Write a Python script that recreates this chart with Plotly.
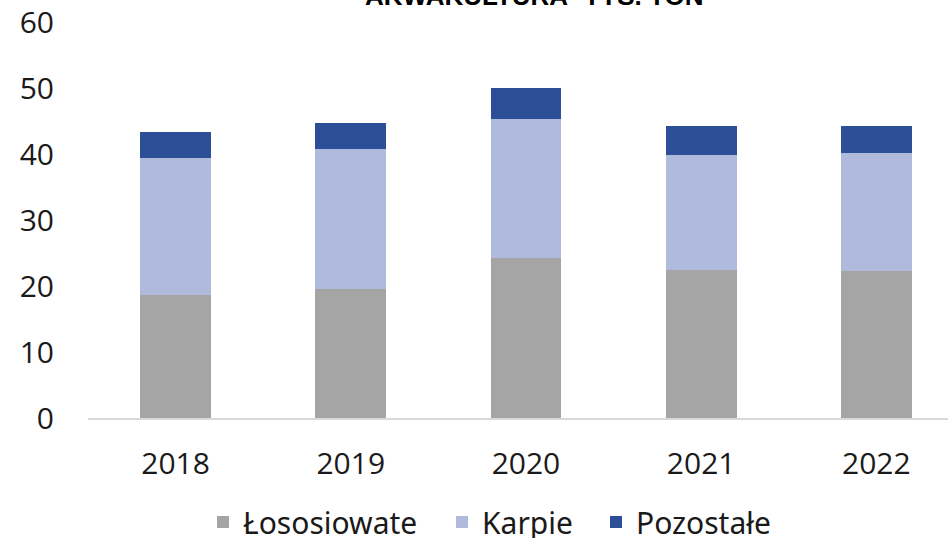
import plotly.graph_objects as go

years = ["2018", "2019", "2020", "2021", "2022"]
lososiowate = [18.6, 19.5, 24.3, 22.4, 22.3]
karpie = [20.8, 21.3, 21.0, 17.4, 17.9]
pozostale = [3.9, 3.9, 4.7, 4.4, 4.0]
y_ticks = [0, 10, 20, 30, 40, 50, 60]
title_text = "AKWAKULTURA- TYS. TON"

fig = go.Figure()
fig.add_bar(x=years, y=lososiowate, name="Łososiowate", legend="legend",
            marker=dict(color="#A5A5A5", line=dict(width=0)))
fig.add_bar(x=years, y=karpie, name="Karpie", legend="legend2",
            marker=dict(color="#AFBADD", line=dict(width=0)))
fig.add_bar(x=years, y=pozostale, name="Pozostałe", legend="legend3",
            marker=dict(color="#2D4F97", line=dict(width=0)))

PLOT_L, PLOT_W = 88, 860


def legend_at(px):
    return dict(orientation="h", x=(px - PLOT_L) / PLOT_W, xanchor="left", xref="paper",
                y=-0.197, yanchor="top", font=dict(size=30, family="Noto Sans"),
                itemwidth=30, bgcolor="rgba(0,0,0,0)")


fig.update_layout(
    barmode="stack",
    bargap=0.595,
    width=948, height=538,
    margin=dict(l=PLOT_L, r=0, t=22, b=120, autoexpand=False),
    paper_bgcolor="white", plot_bgcolor="white",
    font=dict(family="Open Sans, sans-serif", size=30, color="#1a1a1a"),
    showlegend=True,
    legend=legend_at(203),
    legend2=legend_at(442),
    legend3=legend_at(596),
    annotations=[dict(text="<b>" + title_text + "</b>", xref="paper", yref="paper",
                      x=(534 - PLOT_L) / PLOT_W, y=1.025, xanchor="center", yanchor="bottom",
                      showarrow=False, borderpad=0,
                      font=dict(family="Liberation Sans", size=26, color="#000000"))],
)
fig.update_xaxes(range=[-0.5, 4.409], showline=True, linecolor="#D9D9D9", linewidth=2,
                 ticks="", showgrid=False, ticklabelstandoff=18, tickfont=dict(size=30))
fig.update_yaxes(range=[0, 60], tickvals=y_ticks, showgrid=False, zeroline=False,
                 showline=False, ticks="", ticklabelstandoff=33, tickfont=dict(size=30))

fig.write_html("out.html", config={"displayModeBar": False},
               post_script="document.body.style.margin='0';")
